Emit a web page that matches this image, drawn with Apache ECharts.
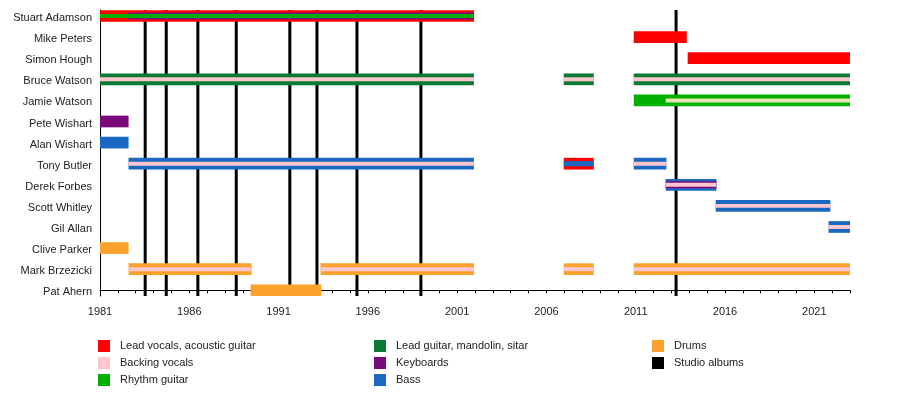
<!DOCTYPE html>
<html>
<head>
<meta charset="utf-8">
<script src="https://cdn.jsdelivr.net/npm/echarts@6/dist/echarts.min.js"></script>
<style>
html,body{margin:0;padding:0;background:#fff;}
#chart{width:900px;height:396px;}
</style>
</head>
<body>
<div id="chart"></div>
<script>
// ---------- DATA ----------
const members = ['Stuart Adamson','Mike Peters','Simon Hough','Bruce Watson','Jamie Watson','Pete Wishart','Alan Wishart','Tony Butler','Derek Forbes','Scott Whitley','Gil Allan','Clive Parker','Mark Brzezicki','Pat Ahern'];
const axisStartYear = 1981;
const axisEndYear = 2023;
const tickYears = [1981,1986,1991,1996,2001,2006,2011,2016,2021];
const studioAlbums = [1983.53,1984.71,1986.48,1988.63,1991.63,1993.15,1995.39,1998.97,2013.26];

// [member, start, end]
const leadVocals = [['Stuart Adamson',1981,2001.94],['Mike Peters',2010.89,2013.86],['Simon Hough',2013.91,2023],['Tony Butler',2006.97,2008.65]];
const leadGuitar = [['Bruce Watson',1981,2001.94],['Bruce Watson',2006.97,2008.65],['Bruce Watson',2010.89,2023]];
const rhythmGuitar = [['Jamie Watson',2010.89,2023]];
const keyboards = [['Pete Wishart',1981,1982.6]];
const bass = [['Alan Wishart',1981,1982.6],['Tony Butler',1982.6,2001.94],['Tony Butler',2010.89,2012.72],['Derek Forbes',2012.68,2015.52],['Scott Whitley',2015.48,2021.9],['Gil Allan',2021.8,2023]];
const drums = [['Clive Parker',1981,1982.6],['Mark Brzezicki',1982.6,1989.49],['Mark Brzezicki',1993.35,2001.94],['Mark Brzezicki',2006.97,2008.65],['Mark Brzezicki',2010.89,2023],['Pat Ahern',1989.43,1993.39]];
// secondary roles (drawn as inner stripes)
const keyboardsSecondary = [['Stuart Adamson',1982.6,2001.94],['Derek Forbes',2012.68,2015.52]];
const bassSecondary = [['Tony Butler',2006.97,2008.65]];
const rhythmGuitarSecondary = [['Stuart Adamson',1981,2001.94]];
const backingVocalsSecondary = [['Bruce Watson',1981,2001.94],['Bruce Watson',2006.97,2008.65],['Bruce Watson',2010.89,2023],['Tony Butler',1982.6,2001.94],['Tony Butler',2010.89,2012.72],['Derek Forbes',2012.68,2015.52],['Scott Whitley',2015.48,2021.9],['Gil Allan',2021.8,2023],['Mark Brzezicki',1982.6,1989.49],['Mark Brzezicki',1993.35,2001.94],['Mark Brzezicki',2006.97,2008.65],['Mark Brzezicki',2010.89,2023]];
const backingVocalsLight = [['Jamie Watson',2012.68,2023]];

const legendNames = ['Lead vocals, acoustic guitar','Backing vocals','Rhythm guitar','Lead guitar, mandolin, sitar','Keyboards','Bass','Drums','Studio albums'];

// ---------- STYLE ----------
const C = {
  lead:'#ff0000', backing:'#ffc6cf', rhythm:'#00b000', leadGuitar:'#0a7a35',
  keys:'#7a0a7a', bass:'#1a68c2', drums:'#fba22e', album:'#000000', light:'#ebe6b4'
};
const legendColors = [C.lead,C.backing,C.rhythm,C.leadGuitar,C.keys,C.bass,C.drums,C.album];
const BAR = 0.555; // bar thickness in row units

const layers = [
  [leadVocals,C.lead,1],[leadGuitar,C.leadGuitar,1],[rhythmGuitar,C.rhythm,1],
  [keyboards,C.keys,1],[bass,C.bass,1],[drums,C.drums,1],
  [keyboardsSecondary,C.keys,0.6],[bassSecondary,C.bass,0.45],
  [rhythmGuitarSecondary,C.rhythm,0.36],[backingVocalsSecondary,C.backing,0.34],
  [backingVocalsLight,C.light,0.34]
];

const barData = [];
layers.forEach(([arr,color,size])=>{
  arr.forEach(([m,s,e])=>{
    barData.push({value:[s-axisStartYear,e-axisStartYear,members.length-1-members.indexOf(m),size],itemStyle:{color}});
  });
});

const FONT = '"Liberation Sans", Arial, sans-serif';

const chart = echarts.init(document.getElementById('chart'),null,{renderer:'canvas'});

const legendGraphics = [];
const colX = [98,374,652];
const rowY = [340,357,374];
legendNames.forEach((n,i)=>{
  const col = Math.floor(i/3), row = i%3;
  legendGraphics.push({type:'rect',left:colX[col],top:rowY[row],shape:{width:12,height:12},style:{fill:legendColors[i]}});
  legendGraphics.push({type:'text',left:colX[col]+22,top:rowY[row]+0,style:{text:n,fill:'#222',font:'11px '+FONT}});
});

const option = {
  animation:false,
  backgroundColor:'#fff',
  grid:{left:100,right:50,top:10,bottom:100},
  xAxis:{
    type:'value',min:0,max:axisEndYear-axisStartYear,
    axisLine:{show:true,lineStyle:{color:'#000',width:1}},
    axisTick:{show:true,length:3,lineStyle:{color:'#000'},customValues:Array.from({length:axisEndYear-axisStartYear+1},(_, i)=>i)},
    axisLabel:{customValues:tickYears.map(y=>y-axisStartYear),formatter:v=>String(v+axisStartYear),fontSize:11,color:'#222',fontFamily:FONT,margin:10},
    splitLine:{show:false}
  },
  yAxis:{
    type:'value',min:-0.272,max:13.285,
    axisLine:{show:true,lineStyle:{color:'#000',width:1}},
    axisTick:{show:false},
    axisLabel:{customValues:members.map((_,i)=>i),formatter:v=>'{n|'+members[members.length-1-Math.round(v)]+'}',margin:8,
      rich:{n:{fontSize:11,color:'#222',fontFamily:FONT,padding:[4,0,0,0]}}},
    splitLine:{show:false}
  },
  graphic:legendGraphics,
  series:[
    {
      type:'custom',z:1,
      data:studioAlbums.map(y=>[y-axisStartYear]),
      renderItem:(params,api)=>{
        const x = api.value(0);
        const top = api.coord([x,13.285]);
        const bot = api.coord([x,-0.272]);
        return {type:'line',shape:{x1:top[0],y1:top[1],x2:bot[0],y2:bot[1]},style:{stroke:C.album,lineWidth:3}};
      }
    },
    {
      type:'custom',z:2,
      data:barData,
      renderItem:(params,api)=>{
        const s = api.coord([api.value(0),api.value(2)]);
        const e = api.coord([api.value(1),api.value(2)]);
        const h = api.size([0,1])[1]*BAR*api.value(3);
        return {type:'rect',shape:{x:s[0],y:s[1]-h/2,width:e[0]-s[0],height:h},style:{fill:api.visual('color')}};
      }
    }
  ]
};
chart.setOption(option);
</script>
</body>
</html>
